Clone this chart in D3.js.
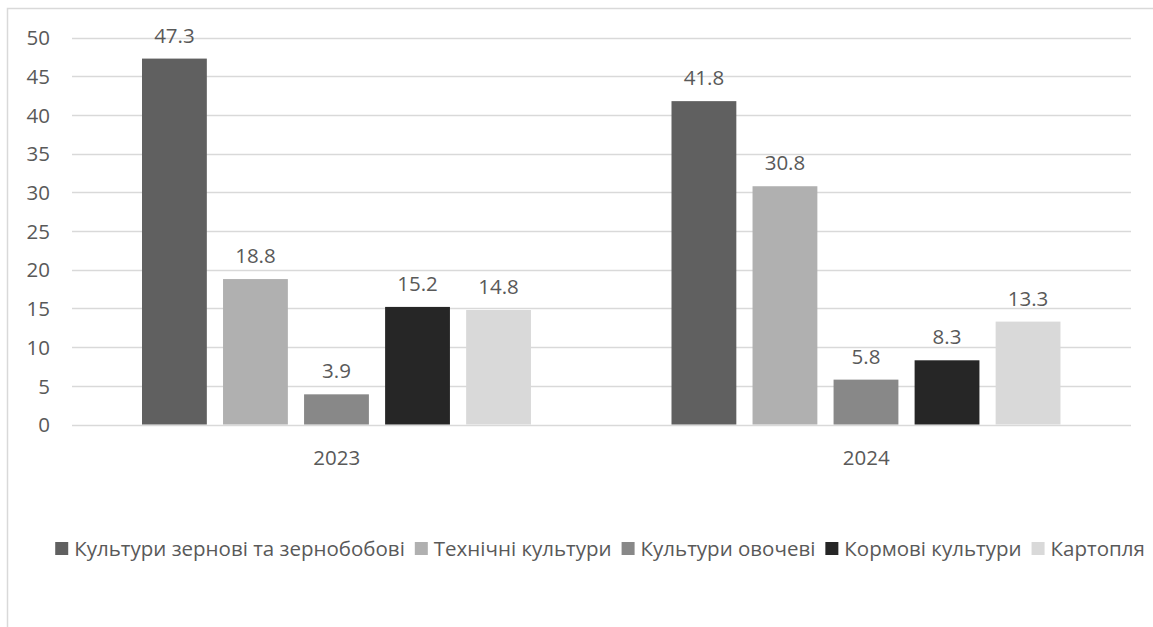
<!DOCTYPE html>
<html>
<head>
<meta charset="utf-8">
<script src="https://cdn.jsdelivr.net/npm/d3@7"></script>
<style>
  body { margin: 0; background: #fff; }
  text { font-family: "Open Sans", "Noto Sans", sans-serif; fill: #595959; }
</style>
</head>
<body>
<div id="chart"></div>
<script>
'use strict';

var years = ['2023', '2024'];
var seriesNames = ['Культури зернові та зернобобові', 'Технічні культури', 'Культури овочеві', 'Кормові культури', 'Картопля'];
var seriesColors = ['#606060', '#b0b0b0', '#888888', '#262626', '#d9d9d9'];
var values2023 = [47.3, 18.8, 3.9, 15.2, 14.8];
var values2024 = [41.8, 30.8, 5.8, 8.3, 13.3];
var yTicks = [0, 5, 10, 15, 20, 25, 30, 35, 40, 45, 50];

var W = 1153, H = 627;
var plotLeft = 72, plotRight = 1131;
var plotTop = 37.7, plotBottom = 424.5;
var fs = '20.5px';

var svg = d3.select('#chart').append('svg')
  .attr('width', W)
  .attr('height', H);

// chart border (runs off the right and bottom edge)
svg.append('rect')
  .attr('x', 7.5).attr('y', 8.5)
  .attr('width', W + 20).attr('height', H + 20)
  .attr('fill', 'none')
  .attr('stroke', '#d9d9d9')
  .attr('stroke-width', 1.5);

var y = d3.scaleLinear().domain([0, 50]).range([plotBottom, plotTop]);

var x0 = d3.scaleBand().domain(years).range([plotLeft, plotRight]).padding(0);
var bw = x0.bandwidth();
var x1 = d3.scaleBand().domain(seriesNames)
  .range([bw * 0.1322, bw * 0.8668])
  .paddingInner(0.2).paddingOuter(0);

// gridlines
svg.append('g').selectAll('line').data(yTicks).enter()
  .append('line')
  .attr('x1', plotLeft).attr('x2', plotRight)
  .attr('y1', function(d) { return Math.round(y(d)) + 0.5; })
  .attr('y2', function(d) { return Math.round(y(d)) + 0.5; })
  .attr('stroke', '#d9d9d9')
  .attr('stroke-width', 1.5);

// y axis labels
var yAxis = d3.axisLeft(y).tickValues(yTicks).tickSize(0).tickPadding(0);
var yg = svg.append('g')
  .attr('transform', 'translate(' + 50 + ',0)')
  .call(yAxis);
yg.select('.domain').remove();
yg.selectAll('text')
  .attr('fill', '#595959')
  .style('font-size', fs)
  .attr('dy', '0.35em');

// x axis labels
var xAxis = d3.axisBottom(x0).tickSize(0).tickPadding(0);
var xg = svg.append('g')
  .attr('transform', 'translate(0,' + 450 + ')')
  .call(xAxis);
xg.select('.domain').remove();
xg.selectAll('text')
  .attr('fill', '#595959')
  .style('font-size', fs);

// bars
var data = [];
years.forEach(function(yr, gi) {
  var vals = gi === 0 ? values2023 : values2024;
  seriesNames.forEach(function(s, si) {
    data.push({ year: yr, series: s, value: vals[si], color: seriesColors[si] });
  });
});

svg.append('g').selectAll('rect').data(data).enter()
  .append('rect')
  .attr('x', function(d) { return x0(d.year) + x1(d.series); })
  .attr('y', function(d) { return y(d.value); })
  .attr('width', x1.bandwidth())
  .attr('height', function(d) { return y(0) - y(d.value); })
  .attr('fill', function(d) { return d.color; });

// value labels
svg.append('g').selectAll('text').data(data).enter()
  .append('text')
  .attr('x', function(d) { return x0(d.year) + x1(d.series) + x1.bandwidth() / 2; })
  .attr('y', function(d) { return y(d.value) - 16; })
  .attr('text-anchor', 'middle')
  .style('font-size', fs)
  .text(function(d) { return d.value.toFixed(1); });

// legend
var legend = svg.append('g').attr('transform', 'translate(0,' + 555 + ')');
var items = legend.selectAll('g').data(seriesNames).enter().append('g');
items.append('rect')
  .attr('width', 13).attr('height', 13)
  .attr('y', -13)
  .attr('fill', function(d, i) { return seriesColors[i]; });
items.append('text')
  .attr('x', 19)
  .attr('y', 1)
  .style('font-size', fs)
  .text(function(d) { return d; });

var pos = 0;
var offsets = [];
items.each(function() {
  offsets.push(pos);
  var tw = d3.select(this).select('text').node().getComputedTextLength();
  pos += 19 + tw + 10;
});
var total = pos - 10;
var startX = 600 - total / 2;
items.attr('transform', function(d, i) { return 'translate(' + (startX + offsets[i]) + ',0)'; });
</script>
</body>
</html>
